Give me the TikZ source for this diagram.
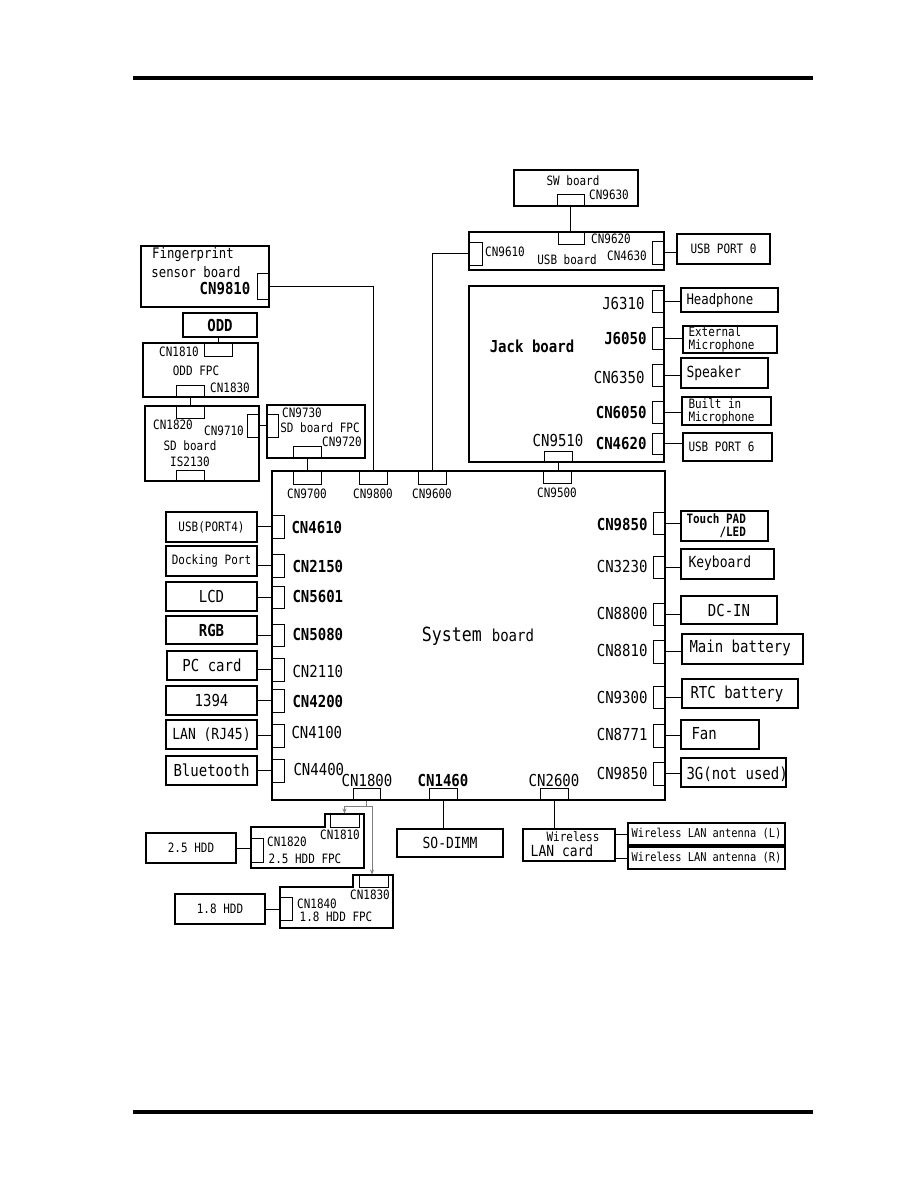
\documentclass[tikz,border=0pt]{standalone}
\usepackage{fontspec}
\setmainfont[FakeStretch=0.85]{DejaVu Sans Mono}
\usetikzlibrary{arrows.meta}

\begin{document}
\begin{tikzpicture}[x=1pt,y=-1pt,line width=1pt,>={Stealth[length=5pt,width=4pt]},
  bx/.style 2 args={draw,line width=1.05pt,inner sep=0pt,minimum width=#1,minimum height=#2},
  cn/.style 2 args={draw,line width=1pt,inner sep=0pt,minimum width=#1,minimum height=#2},
  ts/.style={inner sep=0pt,font=\fontsize{12.9}{13}\selectfont},
  tsb/.style={inner sep=0pt,font=\fontsize{12.9}{13}\selectfont\bfseries},
  tx/.style={inner sep=0pt,font=\fontsize{12.2}{13}\selectfont},
  tf/.style={inner sep=0pt,font=\fontsize{14.5}{16}\selectfont},
  tl/.style={inner sep=0pt,font=\fontsize{15.3}{17}\selectfont},
  tm/.style={inner sep=0pt,font=\fontsize{16.5}{18}\selectfont},
  tb/.style={inner sep=0pt,font=\fontsize{16.5}{18}\selectfont\bfseries}]
\useasboundingbox (0,0) rectangle (918,1188);
\draw[line width=4pt] (133,78) -- (813,78);
\draw[line width=4pt] (133,1112) -- (813,1112);

\node[bx={124}{36}] (sw) at (576,188) {};
\node[ts] at (573,181) {SW board};
\node[cn={27}{12}] (cn9630) at (570.5,200) {};
\node[ts] at (609,195) {CN9630};

\node[bx={195}{38}] (usb) at (566.5,251) {};
\node[cn={26}{12}] (cn9620) at (571,238) {};
\node[ts] at (611,239) {CN9620};
\node[cn={13}{23}] (cn9610) at (475.5,253.5) {};
\node[ts] at (505,252) {CN9610};
\node[ts] at (567,260) {USB board};
\node[cn={12}{23}] (cn4630) at (658,252.5) {};
\node[ts] at (627,256) {CN4630};
\node[bx={93}{30},ts] (usb0) at (723.5,249) {USB PORT 0};

\node[bx={128}{61}] (fp) at (205,276.5) {};
\node[tf] at (193,255) {Fingerprint};
\node[tf] at (196,272) {sensor board};
\node[tb] at (225,289) {CN9810};
\node[cn={12}{26}] (cn9810) at (263,286) {};

\node[bx={74}{24},tb] (odd) at (220,325) {ODD};
\node[bx={115}{54}] (oddfpc) at (200.5,370) {};
\node[cn={28}{13}] (cn1810) at (218,349.5) {};
\node[ts] at (179,352) {CN1810};
\node[ts] at (196,371) {ODD FPC};
\node[cn={28}{12}] (cn1830) at (190,391) {};
\node[ts] at (230,388) {CN1830};

\node[bx={114}{75}] (sd) at (202,443.5) {};
\node[cn={28}{12}] (cn1820) at (190,412) {};
\node[ts] at (173,425) {CN1820};
\node[cn={12}{23}] (cn9710) at (253,425.5) {};
\node[ts] at (224,431) {CN9710};
\node[ts] at (190,446) {SD board};
\node[ts] at (190,462) {IS2130};
\node[cn={28}{11}] (is2130) at (190,475.5) {};

\node[bx={98}{53}] (sdfpc) at (316,431.5) {};
\node[cn={11}{23}] (cn9730) at (272.5,425.5) {};
\node[ts] at (302,413) {CN9730};
\node[ts] at (320,428) {SD board FPC};
\node[cn={28}{12}] (cn9720) at (307,452) {};
\node[ts] at (342,442) {CN9720};

\node[bx={195}{176}] (jack) at (566.5,374) {};
\node[tb] at (532,346) {Jack board};
\node[cn={12}{22}] (j6310) at (658,301) {};
\node[tm,anchor=east] at (645,303) {J6310};
\node[cn={12}{22}] (j6050) at (658,338) {};
\node[tb,anchor=east] at (647,338) {J6050};
\node[cn={12}{22}] (cn6350) at (658,375) {};
\node[tm,anchor=east] at (645,377) {CN6350};
\node[cn={12}{22}] (cn6050) at (658,412) {};
\node[tb,anchor=east] at (647,412) {CN6050};
\node[cn={12}{21}] (cn4620) at (658,443.5) {};
\node[tb,anchor=east] at (647,443) {CN4620};
\node[cn={28}{11}] (cn9510) at (558,456.5) {};
\node[tm] at (558,440) {CN9510};

\node[bx={97}{24}] (hp) at (729.5,300) {};
\node[tf,anchor=west] at (686,300) {Headphone};
\node[bx={94}{27}] (extmic) at (730,339.5) {};
\node[ts,anchor=west,align=left] at (688,339.5) {External\\Microphone};
\node[bx={87}{30}] (spk) at (724.5,373) {};
\node[tl,anchor=west] at (686,373) {Speaker};
\node[bx={89}{28}] (bimic) at (726.5,411) {};
\node[ts,anchor=west,align=left] at (688,411) {Built in\\Microphone};
\node[bx={89}{28}] (usb6) at (727.5,447) {};
\node[ts,anchor=west] at (688,447) {USB PORT 6};

\node[bx={393}{329}] (sys) at (468.5,635.5) {};
\node at (478,636) {\fontsize{19.5}{21}\selectfont System \fontsize{16.5}{18}\selectfont board};
\node[cn={28}{13}] (cn9700) at (307,477.5) {};
\node[ts] at (307,494) {CN9700};
\node[cn={28}{13}] (cn9800) at (373,477.5) {};
\node[ts] at (373,494) {CN9800};
\node[cn={28}{13}] (cn9600) at (432,477.5) {};
\node[ts] at (432,494) {CN9600};
\node[cn={28}{12}] (cn9500) at (557,477) {};
\node[ts] at (557,493) {CN9500};

\node[cn={12}{23}] (cn4610) at (278,526.5) {};
\node[tb,anchor=west] at (291,527) {CN4610};
\node[cn={12}{23}] (cn2150) at (278,565.5) {};
\node[tb,anchor=west] at (292,566) {CN2150};
\node[cn={12}{22}] (cn5601) at (278,597) {};
\node[tb,anchor=west] at (292,596) {CN5601};
\node[cn={12}{22}] (cn5080) at (278,635) {};
\node[tb,anchor=west] at (292,634) {CN5080};
\node[cn={12}{23}] (cn2110) at (278,669.5) {};
\node[tm,anchor=west] at (292,671) {CN2110};
\node[cn={12}{23}] (cn4200) at (278,700.5) {};
\node[tb,anchor=west] at (292,701) {CN4200};
\node[cn={12}{23}] (cn4100) at (278,735.5) {};
\node[tm,anchor=west] at (291,732) {CN4100};
\node[cn={12}{23}] (cn4400) at (278,770.5) {};
\node[tm,anchor=west] at (293,769) {CN4400};

\node[bx={91}{30},ts] (usb4) at (211.5,527) {USB(PORT4)};
\node[bx={91}{30},ts] (dock) at (211.5,561) {Docking Port};
\node[bx={91}{29},tm] (lcd) at (211.5,596.5) {LCD};
\node[bx={91}{28},tb] (rgb) at (211.5,630) {RGB};
\node[bx={90}{29},tm] (pccard) at (212,665.5) {PC card};
\node[bx={91}{29},tm] (i1394) at (211.5,700.5) {1394};
\node[bx={91}{29},tl] (lan) at (211.5,734.5) {LAN (RJ45)};
\node[bx={91}{29},tm] (bt) at (211.5,770.5) {Bluetooth};

\node[cn={12}{22}] (cn9850a) at (659,523) {};
\node[tb,anchor=east] at (648,525) {CN9850};
\node[cn={12}{22}] (cn3230) at (659,567) {};
\node[tm,anchor=east] at (648,566) {CN3230};
\node[cn={12}{22}] (cn8800) at (659,614) {};
\node[tm,anchor=east] at (648,613) {CN8800};
\node[cn={12}{23}] (cn8810) at (659,651.5) {};
\node[tm,anchor=east] at (648,650) {CN8810};
\node[cn={12}{22}] (cn9300) at (659,697) {};
\node[tm,anchor=east] at (648,697) {CN9300};
\node[cn={12}{23}] (cn8771) at (659,735.5) {};
\node[tm,anchor=east] at (648,734) {CN8771};
\node[cn={12}{23}] (cn9850b) at (659,773.5) {};
\node[tm,anchor=east] at (648,773) {CN9850};

\node[bx={87}{30}] (tpad) at (724.5,526) {};
\node[tsb,anchor=west,align=left] at (686,525.5) {Touch PAD\\\phantom{Touch}/LED};
\node[bx={93}{30}] (kbd) at (727.5,564) {};
\node[tl,anchor=west] at (688,563) {Keyboard};
\node[bx={96}{28},tm] (dcin) at (729,610) {DC-IN};
\node[bx={121}{30}] (mbat) at (742.5,649) {};
\node[tm,anchor=west] at (689,648) {Main battery};
\node[bx={116}{29}] (rtc) at (740,693.5) {};
\node[tm,anchor=west] at (690,694) {RTC battery};
\node[bx={78}{29}] (fan) at (720,734.5) {};
\node[tm,anchor=west] at (691,734) {Fan};
\node[bx={105}{29}] (g3) at (733.5,772.5) {};
\node[tm,anchor=west] at (686,774) {3G(not used)};

\node[cn={27}{12}] (cn1800) at (366.5,794) {};
\node[tm] at (367,780) {CN1800};
\node[cn={28}{12}] (cn1460) at (443,794) {};
\node[tb] at (443,780) {CN1460};
\node[cn={28}{12}] (cn2600) at (554,794) {};
\node[tm] at (554,780) {CN2600};

\node[bx={106}{28},tl] (sodimm) at (450,843) {SO-DIMM};
\node[bx={92}{32}] (wlan) at (569,845) {};
\node[ts] at (573,837) {Wireless};
\node[tl] at (562,851) {LAN card};
\node[bx={157}{22},tx] (antl) at (706.5,834) {Wireless LAN antenna (L)};
\node[bx={157}{22},tx] (antr) at (706.5,858) {Wireless LAN antenna (R)};

\draw[line width=1.05pt] (251,827) -- (325,827) -- (325,814) -- (364,814) -- (364,868) -- (251,868) -- cycle;
\node[cn={29}{13}] (cn1810b) at (344.5,820.5) {};
\node[ts] at (340,835) {CN1810};
\node[cn={12}{24}] (cn1820b) at (257,850) {};
\node[ts] at (287,842) {CN1820};
\node[ts] at (305,859) {2.5 HDD FPC};
\node[bx={90}{30},ts] (hdd25) at (191,848) {2.5 HDD};

\draw[line width=1.05pt] (280,887) -- (353,887) -- (353,875) -- (393,875) -- (393,928) -- (280,928) -- cycle;
\node[cn={29}{12}] (cn1830b) at (373.5,881) {};
\node[ts] at (370,895) {CN1830};
\node[cn={12}{23}] (cn1840) at (286,908.5) {};
\node[ts] at (317,904) {CN1840};
\node[ts] at (336,917) {1.8 HDD FPC};
\node[bx={90}{30},ts] (hdd18) at (220,909) {1.8 HDD};

\draw (cn9630.south) -- (cn9630.south |- cn9620.north);
\draw (cn4630.east) -- (cn4630.east -| usb0.west);
\draw (cn9610.west) -| (cn9600.north);
\draw (cn9810.east) -| (cn9800.north);
\draw (odd.south -| cn1810.north) -- (cn1810.north);
\draw (cn1830.south) -- (cn1820.north);
\draw (cn9710.east) -- (cn9730.west);
\draw (cn9720.south) -- (cn9700.north);
\draw (cn9510.south) -- (cn9510.south |- cn9500.north);
\draw (j6310.east) -- (j6310.east -| hp.west);
\draw (j6050.east) -- (j6050.east -| extmic.west);
\draw (cn6350.east) -- (cn6350.east -| spk.west);
\draw (cn6050.east) -- (cn6050.east -| bimic.west);
\draw (cn4620.east) -- (cn4620.east -| usb6.west);
\draw (cn4610.west) -- (cn4610.west -| usb4.east);
\draw (cn2150.west) -- (cn2150.west -| dock.east);
\draw (cn5601.west) -- (cn5601.west -| lcd.east);
\draw (cn5080.west) -- (cn5080.west -| rgb.east);
\draw (cn2110.west) -- (cn2110.west -| pccard.east);
\draw (cn4200.west) -- (cn4200.west -| i1394.east);
\draw (cn4100.west) -- (cn4100.west -| lan.east);
\draw (cn4400.west) -- (cn4400.west -| bt.east);
\draw (cn9850a.east) -- (cn9850a.east -| tpad.west);
\draw (cn3230.east) -- (cn3230.east -| kbd.west);
\draw (cn8800.east) -- (cn8800.east -| dcin.west);
\draw (cn8810.east) -- (cn8810.east -| mbat.west);
\draw (cn9300.east) -- (cn9300.east -| rtc.west);
\draw (cn8771.east) -- (cn8771.east -| fan.west);
\draw (cn9850b.east) -- (cn9850b.east -| g3.west);
\draw (cn1460.south) -- (cn1460.south |- sodimm.north);
\draw (cn2600.south) -- (cn2600.south |- wlan.north);
\draw (wlan.east |- antl.west) -- (antl.west);
\draw (wlan.east |- antr.west) -- (antr.west);
\draw (hdd25.east) -- (hdd25.east -| cn1820b.west);
\draw (hdd18.east) -- (hdd18.east -| cn1840.west);
\draw[gray,line width=0.8pt,->] (cn1800.south) -- ++(0,6) -| (cn1810b.north);
\draw[gray,line width=0.8pt,->] (cn1800.south) -- ++(0,6) -| ([xshift=-1.5pt]cn1830b.north);
\end{tikzpicture}
\end{document}
